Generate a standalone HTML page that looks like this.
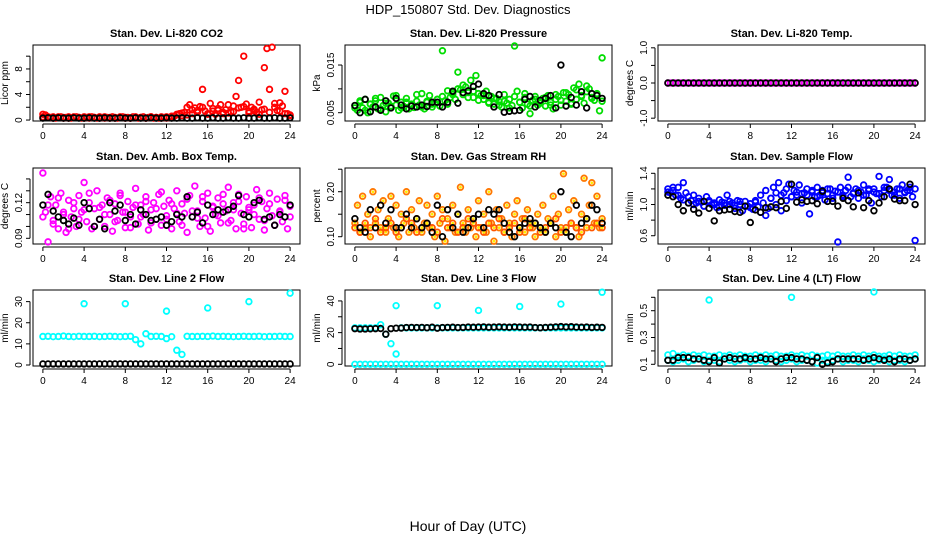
<!DOCTYPE html>
<html><head><meta charset="utf-8">
<style>
html,body{margin:0;padding:0;background:#fff;}
svg{display:block;font-family:"Liberation Sans",Arial,sans-serif;}
</style></head>
<body>
<svg id="chart" width="936" height="540" viewBox="0 0 936 540" xmlns="http://www.w3.org/2000/svg">
<rect width="936" height="540" fill="#fff"/>
<text x="468" y="14" text-anchor="middle" font-size="13">HDP_150807  Std. Dev. Diagnostics</text>
<text x="468" y="531" text-anchor="middle" font-size="14">Hour of Day (UTC)</text>
</svg>
<script>
// ---- data ----
const xTicks = [0,4,8,12,16,20,24];
const co2Red = [0.9,0.8,0.5,0.4,0.5,0.3,0.4,0.5,0.3,0.4,0.5,0.3,0.4,0.5,0.4,0.3,0.5,0.4,0.3,0.5,0.4,0.3,0.5,0.4,0.3,0.4,0.3,0.5,0.4,0.3,0.4,0.5,0.3,0.4,0.3,0.5,0.4,0.3,0.4,0.5,0.3,0.4,0.5,0.3,0.4,0.3,0.5,0.4,0.3,0.4,0.5,0.6,0.8,1.0,0.7,1.2,2.0,2.4,1.0,1.9,1.5,2.1,4.8,1.4,1.0,2.6,1.8,0.9,1.5,2.4,1.2,1.6,1.1,1.3,2.2,3.7,6.2,2.0,10.0,2.5,1.4,2.0,1.7,1.2,0.9,1.6,8.2,11.2,4.8,11.4,2.6,1.5,2.7,2.2,4.5,1.0,0.8];
const co2Red2 = [0.5,0.4,0.3,0.5,0.4,0.3,0.5,0.4,0.3,0.5,0.4,0.3,0.5,0.4,0.3,0.5,0.4,0.3,0.5,0.4,0.3,0.5,0.4,0.3,0.5,0.6,0.9,1.1,0.8,1.6,1.2,2.0,0.9,1.4,1.8,1.0,2.4,1.3,1.9,2.1,1.1,1.5,2.8,1.7,1.2,2.0,1.4,1.0,0.7];
const co2Black = [0.3,0.35,0.3,0.35,0.3,0.3,0.35,0.3,0.3,0.35,0.3,0.3,0.35,0.3,0.3,0.35,0.3,0.3,0.35,0.3,0.3,0.35,0.3,0.3,0.35,0.3,0.3,0.35,0.3,0.3,0.35,0.3,0.3,0.35,0.3,0.3,0.35,0.3,0.3,0.35,0.3,0.3,0.35,0.3,0.3,0.35,0.3,0.3,0.35];
const pressGreen = [.0065,.0055,.0072,.0060,.0078,.0050,.0068,.0062,.0075,.0058,.0082,.0065,.0052,.0070,.0060,.0085,.0066,.0055,.0072,.0063,.0080,.0058,.0068,.0061,.0074,.0066,.0090,.0058,.0072,.0086,.0062,.0070,.0078,.0064,.0180,.0075,.0068,.0082,.0092,.0078,.0135,.0098,.0088,.0104,.0082,.0118,.0095,.0128,.0090,.0086,.0078,.0095,.0072,.0084,.0068,.0080,.0074,.0062,.0088,.0070,.0078,.0065,.0190,.0095,.0072,.0060,.0082,.0068,.0048,.0076,.0084,.0066,.0072,.0080,.0064,.0086,.0072,.0058,.0078,.0084,.0066,.0092,.0074,.0088,.0068,.0102,.0078,.0110,.0086,.0070,.0094,.0100,.0082,.0076,.0088,.0054,.0165];
const pressGreen2 = [.0060,.0075,.0055,.0068,.0080,.0058,.0070,.0064,.0086,.0060,.0072,.0066,.0088,.0062,.0074,.0068,.0078,.0084,.0096,.0088,.0100,.0108,.0092,.0082,.0076,.0086,.0070,.0080,.0066,.0074,.0060,.0084,.0072,.0090,.0064,.0078,.0070,.0082,.0066,.0088,.0076,.0092,.0070,.0098,.0084,.0106,.0080,.0090,.0074];
const pressBlack = [.0065,.0050,.0078,.0052,.0062,.0055,.0075,.0060,.0080,.0066,.0058,.0064,.0062,.0066,.0063,.0072,.0072,.0062,.0072,.0095,.0070,.0092,.0096,.0105,.0110,.0090,.0086,.0062,.0088,.0051,.0053,.0054,.0055,.0078,.0084,.0062,.0076,.0080,.0086,.0060,.0150,.0064,.0082,.0066,.0094,.0060,.0090,.0086,.0080];
const tempMagenta = [0,0,0,0,0,0,0,0,0,0,0,0,0,0,0,0,0,0,0,0,0,0,0,0,0,0,0,0,0,0,0,0,0,0,0,0,0,0,0,0,0,0,0,0,0,0,0,0,0,0,0,0,0,0,0,0,0,0,0,0,0,0,0,0,0,0,0,0,0,0,0,0,0,0,0,0,0,0,0,0,0,0,0,0,0,0,0,0,0,0,0,0,0,0,0,0,0];
const tempBlack = [0,0,0,0,0,0,0,0,0,0,0,0,0,0,0,0,0,0,0,0,0,0,0,0,0,0,0,0,0,0,0,0,0,0,0,0,0,0,0,0,0,0,0,0,0,0,0,0,0];
const ambMagenta = [0.145,0.112,0.087,0.125,0.105,0.118,0.098,0.128,0.110,0.095,0.122,0.108,0.115,0.100,0.126,0.112,0.137,0.104,0.120,0.098,0.115,0.130,0.106,0.118,0.100,0.124,0.110,0.096,0.119,0.105,0.128,0.112,0.099,0.121,0.108,0.116,0.132,0.102,0.118,0.110,0.125,0.097,0.114,0.120,0.106,0.127,0.101,0.117,0.109,0.122,0.098,0.115,0.130,0.104,0.119,0.111,0.095,0.126,0.108,0.134,0.113,0.100,0.121,0.107,0.128,0.096,0.116,0.110,0.124,0.103,0.119,0.113,0.133,0.105,0.120,0.098,0.127,0.111,0.102,0.125,0.114,0.099,0.118,0.131,0.106,0.121,0.097,0.115,0.128,0.109,0.101,0.123,0.112,0.104,0.126,0.098,0.117];
const ambMagenta2 = [0.108,0.118,0.102,0.124,0.112,0.098,0.120,0.106,0.114,0.128,0.100,0.116,0.110,0.122,0.104,0.126,0.112,0.099,0.118,0.108,0.121,0.103,0.115,0.129,0.106,0.119,0.111,0.101,0.123,0.113,0.107,0.125,0.100,0.117,0.109,0.127,0.103,0.114,0.121,0.098,0.116,0.110,0.124,0.105,0.119,0.101,0.113,0.122,0.108];
const ambBlack = [0.118,0.127,0.113,0.108,0.105,0.102,0.107,0.101,0.120,0.115,0.100,0.106,0.098,0.120,0.113,0.118,0.105,0.110,0.102,0.114,0.110,0.105,0.106,0.108,0.101,0.104,0.110,0.108,0.125,0.108,0.112,0.103,0.118,0.110,0.114,0.112,0.114,0.117,0.126,0.110,0.108,0.120,0.122,0.106,0.108,0.101,0.110,0.108,0.118];
const rhOrange = [0.13,0.17,0.11,0.19,0.12,0.15,0.10,0.20,0.13,0.16,0.12,0.18,0.11,0.14,0.19,0.12,0.17,0.10,0.15,0.13,0.20,0.11,0.16,0.12,0.14,0.18,0.11,0.13,0.17,0.12,0.15,0.10,0.19,0.13,0.16,0.09,0.14,0.12,0.17,0.11,0.15,0.21,0.13,0.11,0.16,0.12,0.14,0.10,0.18,0.12,0.15,0.11,0.20,0.13,0.09,0.16,0.12,0.14,0.11,0.17,0.13,0.10,0.15,0.18,0.12,0.14,0.11,0.16,0.13,0.12,0.10,0.15,0.12,0.17,0.11,0.14,0.13,0.19,0.10,0.15,0.12,0.24,0.11,0.16,0.13,0.18,0.12,0.10,0.15,0.23,0.12,0.17,0.22,0.13,0.19,0.12,0.14];
const rhOrange2 = [0.12,0.11,0.13,0.12,0.14,0.11,0.12,0.13,0.11,0.12,0.14,0.13,0.11,0.12,0.13,0.12,0.11,0.14,0.12,0.13,0.11,0.12,0.14,0.13,0.12,0.11,0.13,0.12,0.14,0.11,0.12,0.13,0.11,0.14,0.12,0.13,0.11,0.12,0.13,0.14,0.11,0.12,0.13,0.12,0.11,0.14,0.12,0.13,0.12];
const rhBlack = [0.14,0.12,0.11,0.16,0.12,0.17,0.13,0.16,0.12,0.12,0.15,0.12,0.14,0.12,0.13,0.11,0.17,0.10,0.16,0.12,0.15,0.11,0.12,0.14,0.15,0.12,0.16,0.15,0.16,0.13,0.11,0.10,0.12,0.13,0.14,0.13,0.12,0.11,0.13,0.12,0.20,0.11,0.10,0.17,0.13,0.14,0.17,0.16,0.13];
const flowBlue = [1.20,1.15,1.18,1.12,1.22,1.08,1.28,1.15,1.10,1.05,1.12,1.02,1.08,1.03,0.98,1.10,1.05,1.00,1.02,0.96,1.06,1.03,0.99,1.12,1.04,1.02,0.95,1.05,1.00,0.92,1.04,0.98,1.01,0.94,1.03,0.97,0.90,1.02,0.86,0.95,1.08,1.22,1.00,1.28,0.92,1.15,1.05,1.26,1.10,1.18,1.12,1.25,1.02,1.15,1.20,0.88,1.16,1.10,1.22,1.12,1.18,1.06,1.14,1.20,1.08,1.17,0.52,1.22,1.12,1.18,1.35,1.10,1.15,1.20,1.08,1.16,1.25,1.12,1.18,1.02,1.20,1.14,1.36,1.10,1.18,1.22,1.32,1.12,1.16,1.20,1.08,1.25,1.15,1.18,1.22,1.10,0.54];
const flowBlue2 = [1.16,1.22,1.12,1.06,1.02,1.00,1.04,0.98,1.03,1.00,0.97,1.02,1.00,0.99,1.04,0.98,0.96,1.05,1.12,1.18,1.08,1.15,1.12,1.20,1.10,1.16,1.14,1.12,1.18,1.10,1.15,1.20,1.12,1.16,1.10,1.22,1.14,1.18,1.12,1.20,1.16,1.14,1.22,1.18,1.12,1.20,1.16,1.18,1.20];
const flowBlack = [1.12,1.10,1.00,0.92,1.02,0.94,0.89,1.04,0.95,0.79,0.92,0.93,0.94,0.91,0.90,0.98,0.77,0.93,0.90,0.96,0.97,0.96,1.04,0.95,1.26,1.03,1.06,1.04,1.05,1.01,1.17,1.04,1.04,0.98,1.08,1.05,0.97,1.15,0.96,1.05,0.92,1.02,1.10,1.20,1.07,1.05,1.05,1.26,1.00];
const line2Cyan = [13.5,13.6,13.4,13.5,13.7,13.5,13.4,13.6,13.5,13.5,13.6,13.4,13.5,13.6,13.5,13.4,13.5,13.6,12.0,10.0,14.8,13.5,13.6,13.5,12.5,13.4,7.0,5.0,13.6,13.5,13.5,13.6,13.5,13.7,13.5,13.6,13.5,13.4,13.5,13.6,13.5,13.5,13.6,13.4,13.5,13.5,13.6,13.5,13.5];
const line2Black = [0.5,0.5,0.5,0.5,0.5,0.5,0.5,0.5,0.5,0.5,0.5,0.5,0.5,0.5,0.5,0.5,0.5,0.5,0.5,0.5,0.5,0.5,0.5,0.5,0.5,0.5,0.5,0.5,0.5,0.5,0.5,0.5,0.5,0.5,0.5,0.5,0.5,0.5,0.5,0.5,0.5,0.5,0.5,0.5,0.5,0.5,0.5,0.5,0.5];
const spikeHours = [4,8,12,16,20,24];
const line2Spikes = [29,29,25.5,27,30,34];
const line3Cyan = [23,23,23,23,23,25,19,13,6.5,23,23,23,23,23,23,23,23,23,23,23,23,23,23,23,23,23,23,23,23,23,23,23,23,23,23,23,23,23,23,23,23,23,23,23,23,23,23,23,23];
const line3Zero = [0,0,0,0,0,0,0,0,0,0,0,0,0,0,0,0,0,0,0,0,0,0,0,0,0,0,0,0,0,0,0,0,0,0,0,0,0,0,0,0,0,0,0,0,0,0,0,0,0];
const line3Black = [22.5,22.3,22.3,22.4,22.5,22.6,19,22.5,22.8,22.9,23.2,23.3,23.2,23.3,23.1,23.4,22.8,23.2,23.3,23.4,23.2,23.3,23.5,23.4,23.5,23.6,23.4,23.5,23.6,23.5,23.4,23.6,23.5,23.4,23.5,23.2,23.1,23.3,23.4,23.6,23.8,23.6,23.7,23.5,23.4,23.5,23.3,23.4,23.3];
const line3Spikes = [37,37,34,36.5,38,45.5];
const line4CyanHi = [0.17,0.18,0.16,0.17,0.16,0.17,0.16,0.17,0.16,0.16,0.17,0.16,0.17,0.16,0.17,0.16,0.16,0.17,0.16,0.17,0.16,0.17,0.16,0.16,0.17,0.16,0.17,0.16,0.17,0.16,0.16,0.17,0.16,0.17,0.16,0.16,0.17,0.16,0.17,0.16,0.17,0.16,0.16,0.17,0.16,0.17,0.16,0.16,0.17];
const line4CyanLo = [0.13,0.12,0.13,0.14,0.12,0.13,0.14,0.12,0.13,0.13,0.12,0.14,0.13,0.12,0.13,0.14,0.12,0.13,0.13,0.12,0.14,0.13,0.12,0.13,0.14,0.12,0.13,0.13,0.12,0.11,0.13,0.12,0.13,0.14,0.12,0.13,0.13,0.12,0.14,0.13,0.12,0.13,0.14,0.12,0.13,0.13,0.12,0.13,0.14];
const line4Black = [0.13,0.13,0.15,0.15,0.15,0.14,0.14,0.13,0.12,0.15,0.11,0.14,0.15,0.14,0.14,0.15,0.14,0.14,0.15,0.14,0.14,0.12,0.14,0.15,0.15,0.14,0.14,0.13,0.12,0.15,0.10,0.11,0.12,0.14,0.14,0.14,0.14,0.14,0.13,0.14,0.15,0.14,0.13,0.14,0.12,0.14,0.14,0.13,0.14];
const line4Spikes = [0.58,0.60,0.64];
const line4SpikeHours = [4,12,20];

// ---- layout ----
const NS='http://www.w3.org/2000/svg';
const svg=document.getElementById('chart');
const colX=[33,345,658], rowY=[45,168,290], W=267, H=76;
function el(tag,attrs,parent){const e=document.createElementNS(NS,tag);for(const k in attrs)e.setAttribute(k,attrs[k]);(parent||svg).appendChild(e);return e;}

const panels=[
 {name:'co2',title:'Stan. Dev. Li-820 CO2',ylab:'Licor ppm',ylim:[-0.15,11.75],ticks:[0,2,4,6,8,10],labels:{0:'0',4:'4',8:'8'},series:[{d:co2Red,c:'#ff0000'},{d:co2Red2,c:'#ff0000'},{d:co2Black,c:'#000'}]},
 {name:'pressure',title:'Stan. Dev. Li-820 Pressure',ylab:'kPa',ylim:[0.00326,0.0192],ticks:[0.005,0.010,0.015],labels:{0.005:'0.005',0.015:'0.015'},series:[{d:pressGreen,c:'#00dd00'},{d:pressGreen2,c:'#00dd00'},{d:pressBlack,c:'#000'}]},
 {name:'temp',title:'Stan. Dev. Li-820 Temp.',ylab:'degrees C',ylim:[-1.08,1.08],ticks:[-1,-0.5,0,0.5,1],labels:{'-1':'-1.0','0':'0.0','1':'1.0'},series:[{d:tempMagenta,c:'#ff00ff'},{d:tempBlack,c:'#000'}]},
 {name:'amb-temp',title:'Stan. Dev. Amb. Box Temp.',ylab:'degrees C',ylim:[0.0852,0.1492],ticks:[0.09,0.10,0.11,0.12,0.13,0.14],labels:{0.09:'0.09',0.12:'0.12'},series:[{d:ambMagenta,c:'#ff00ff'},{d:ambMagenta2,c:'#ff00ff'},{d:ambBlack,c:'#000'}]},
 {name:'rh',title:'Stan. Dev. Gas Stream RH',ylab:'percent',ylim:[0.0838,0.2527],ticks:[0.10,0.15,0.20,0.25],labels:{0.1:'0.10',0.2:'0.20'},series:[{d:rhOrange,c:'#ff7700',f:'#ffee00'},{d:rhOrange2,c:'#ff5500',f:'#ffee00'},{d:rhBlack,c:'#000'}]},
 {name:'sample-flow',title:'Stan. Dev. Sample Flow',ylab:'ml/min',ylim:[0.494,1.468],ticks:[0.6,0.8,1.0,1.2,1.4],labels:{0.6:'0.6',1:'1.0',1.4:'1.4'},series:[{d:flowBlue,c:'#0000ff'},{d:flowBlue2,c:'#0000ff'},{d:flowBlack,c:'#000'}]},
 {name:'line2',title:'Stan. Dev. Line 2 Flow',ylab:'ml/min',ylim:[-0.47,35.5],ticks:[0,10,20,30],labels:{0:'0',10:'10',20:'20',30:'30'},series:[{d:line2Cyan,c:'#00ffff'},{d:line2Black,c:'#000'},{d:line2Spikes,h:spikeHours,c:'#00ffff'}]},
 {name:'line3',title:'Stan. Dev. Line 3 Flow',ylab:'ml/min',ylim:[-1.07,46.9],ticks:[0,10,20,30,40],labels:{0:'0',20:'20',40:'40'},series:[{d:line3Zero,c:'#00ffff'},{d:line3Cyan,c:'#00ffff'},{d:line3Black,c:'#000'},{d:line3Spikes,h:spikeHours,c:'#00ffff'}]},
 {name:'line4',title:'Stan. Dev. Line 4 (LT) Flow',ylab:'ml/min',ylim:[0.0873,0.6545],ticks:[0.1,0.2,0.3,0.4,0.5,0.6],labels:{0.1:'0.1',0.3:'0.3',0.5:'0.5'},series:[{d:line4CyanHi,c:'#00ffff'},{d:line4CyanLo,c:'#00ffff'},{d:line4Black,c:'#000'},{d:line4Spikes,h:line4SpikeHours,c:'#00ffff'}]}
];

panels.forEach((p,i)=>{
  const L=colX[i%3], T=rowY[Math.floor(i/3)], R=L+W, B=T+H;
  const g=el('g',{});
  
  
  const xs=v=>L+(v+0.96)/25.92*W;
  const ys=v=>B-(v-p.ylim[0])/(p.ylim[1]-p.ylim[0])*H;
  const t=el('text',{x:(L+R)/2,y:T-8,'text-anchor':'middle','font-size':'11','font-weight':'bold'},g);
  t.textContent=p.title;
  
  
  const xa=el('g',{},g);
  
  
  el('line',{x1:xs(xTicks[0]),x2:xs(xTicks[xTicks.length-1]),y1:B+3,y2:B+3,stroke:'#000'},xa);
  xTicks.forEach(v=>{
    el('line',{x1:xs(v),x2:xs(v),y1:B+3,y2:B+7,stroke:'#000'},xa);
    const lt=el('text',{x:xs(v),y:B+18,'text-anchor':'middle','font-size':'10'},xa);
    lt.textContent=v;
  });
  const ya=el('g',{},g);
  
  
  el('line',{x1:L-3,x2:L-3,y1:ys(p.ticks[0]),y2:ys(p.ticks[p.ticks.length-1]),stroke:'#000'},ya);
  p.ticks.forEach(v=>{
    el('line',{x1:L-7,x2:L-3,y1:ys(v),y2:ys(v),stroke:'#000'},ya);
    const lab=p.labels[v]??p.labels[String(v)];
    if(lab!==undefined){
      const lt=el('text',{x:0,y:0,transform:`translate(${L-11},${ys(v)}) rotate(-90)`,'text-anchor':'middle','font-size':'10'},ya);
      lt.textContent=lab;
    }
  });
  const yl=el('text',{transform:`translate(${L-25},${(T+B)/2}) rotate(-90)`,'text-anchor':'middle','font-size':'10'},g);
  yl.textContent=p.ylab;
  
  
  el('rect',{x:L,y:T,width:W,height:H,fill:'none',stroke:'#000','stroke-width':1},g);
  p.series.forEach((s,si)=>{
    const sg=el('g',{},g);
    
    
    const n=s.d.length;
    s.d.forEach((v,k)=>{
      const h=s.h?s.h[k]:k*24/(n-1);
      const c=el('circle',{cx:xs(h),cy:ys(v),r:2.8,fill:'none',stroke:s.c,'stroke-width':1.8},sg);
      
      
      if(s.f){el('circle',{cx:xs(h),cy:ys(v),r:1.4,fill:s.f,stroke:'none'},sg);}
    });
  });
});
</script>
</body></html>
